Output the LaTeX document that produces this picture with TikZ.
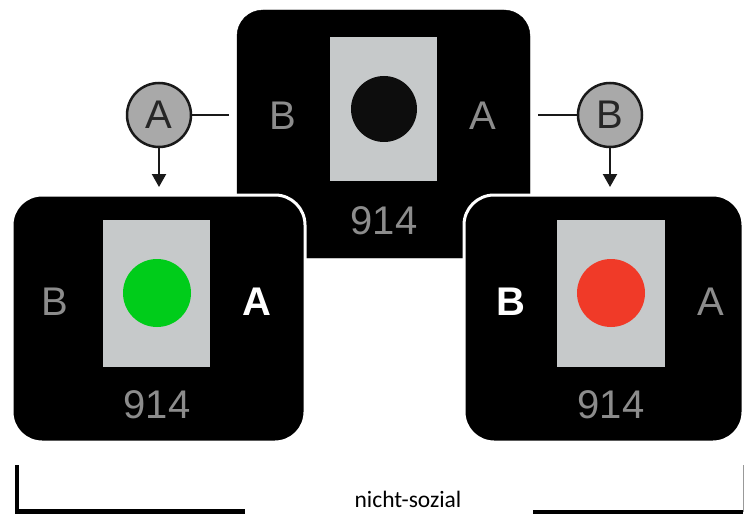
\documentclass[tikz,border=0pt]{standalone}
\usepackage{fontspec}
\setmainfont{Liberation Sans}
\newfontfamily\calfont{Carlito}
\usetikzlibrary{arrows.meta}
\definecolor{scrgray}{HTML}{C6C9CA}
\definecolor{txtgray}{HTML}{8C8C8C}
\definecolor{btngray}{HTML}{A9A9A9}
\definecolor{greendot}{HTML}{00CC1A}
\definecolor{reddot}{HTML}{F03A28}
\tikzset{
  panel/.style={fill=black, inner sep=0pt},
  screen/.style={fill=scrgray, inner sep=0pt},
  dot/.style={circle, inner sep=0pt, minimum size=#1},
  lbl/.style={anchor=base, inner sep=0pt, text=txtgray, font=\fontsize{40}{40}\selectfont},
  lblon/.style={anchor=base, inner sep=0pt, text=white, font=\fontsize{40}{40}\selectfont\bfseries},
  btn/.style={circle, fill=btngray, draw=black!90, line width=2.5pt, minimum size=64pt, inner sep=0pt, font=\fontsize{40}{40}\selectfont, text=black!85},
  conn/.style={line width=2.2pt, draw=black!90},
  bracket/.style={line width=4.5pt, draw=black},
}
\begin{document}
\begin{tikzpicture}[x=1pt,y=-1pt]
\useasboundingbox (0,0) rectangle (744,516);
% center panel
\draw[panel, rounded corners=26pt] (237,10) rectangle (530,258);
\node[screen, minimum width=107pt, minimum height=144pt] (cs) at (383.5,109) {};
\node[dot=66pt, fill=black!95] (cd) at (384,109) {};
\node[lbl] (cB) at (283,130) {B};
\node[lbl] (cA) at (483,130) {A};
\node[lbl] (cn) at (384,234) {914};
\coordinate (cw) at (237,115);
\coordinate (ce) at (530,115);
% left panel
\draw[panel, draw=white, line width=3pt, rounded corners=30pt] (12,195) rectangle (305,442);
\node[screen, minimum width=107pt, minimum height=147pt] (ls) at (156.5,293.5) {};
\node[dot=68pt, fill=greendot] (ld) at (157,293) {};
\node[lbl] (lB) at (55,315) {B};
\node[lblon] (lA) at (257,315) {A};
\node[lbl] (ln) at (157,418) {914};
\coordinate (ln0) at (158.5,195);
% right panel
\draw[panel, draw=white, line width=3pt, rounded corners=30pt] (464,195) rectangle (743,442);
\node[screen, minimum width=108pt, minimum height=147pt] (rs) at (611,293.5) {};
\node[dot=68pt, fill=reddot] (rd) at (611,293) {};
\node[lblon] (rB) at (511,315) {B};
\node[lbl] (rA) at (711,315) {A};
\node[lbl] (rn) at (611,418) {914};
\coordinate (rn0) at (610,195);
% response buttons
\node[btn] (ba) at (159,115) {A};
\node[btn] (bb) at (610,115) {B};
\draw[conn, shorten >=8pt] (ba.east) -- (cw);
\draw[conn, shorten >=8pt] (bb.west) -- (ce);
\draw[conn, -{Triangle[width=14pt,length=13pt]}, shorten >=8pt] (ba.south) -- (ba.south |- ln0);
\draw[conn, -{Triangle[width=14pt,length=13pt]}, shorten >=8pt] (bb.south) -- (bb.south |- rn0);
% bracket
\coordinate (bl1) at (17,465);
\coordinate (bl2) at (17,511.5);
\coordinate (bl3) at (245,511.5);
\coordinate (br1) at (533,512);
\coordinate (br2) at (743,512);
\coordinate (br3) at (743,465);
\draw[bracket, line join=miter] (bl1) -- (bl2) -- (bl3);
\draw[bracket] (br1) -- (br2);
\draw[line width=0.8pt, draw=black!40] (br2) -- (br3);
\node[anchor=base, inner sep=0pt, font=\calfont\fontsize{23.5}{24}\selectfont] (ns) at (408,507) {nicht-sozial};
\end{tikzpicture}
\end{document}
